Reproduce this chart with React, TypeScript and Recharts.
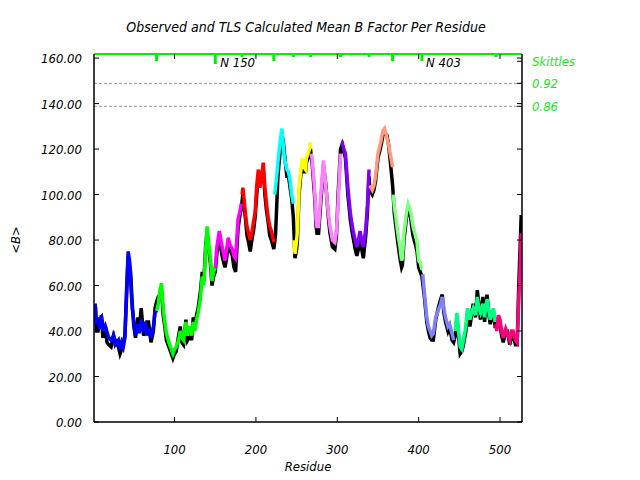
import React from 'react';
import { ComposedChart, Line, XAxis, YAxis, ReferenceLine, ReferenceDot } from 'recharts';

const residueTicks = [100, 200, 300, 400, 500];
const bTicks = [0, 20, 40, 60, 80, 100, 120, 140, 160];
const skittleLevels = [158.6, 148.9, 138.8];
const skittleTexts = ['Skittles', '0.92', '0.86'];
const dottedLevels = [148.9, 138.8];
const boundaryRes = [78, 150, 183, 222, 246, 267, 304, 339, 368, 404, 495];
const boundaryLevel = [2, 3, 1, 2, 1, 1, 1, 1, 2, 2, 1];
const nLabelRes = [150, 403];
const nLabelText = ['N 150', 'N 403'];

const observed: [number, number][] = [
  [2, 52], [3, 50], [4, 40], [6, 40], [8, 45], [10, 46], [12, 37], [15, 42], [17, 35], [19, 34], [22, 33], [25, 38], [27, 36],
  [31, 33], [33, 30], [35, 32], [37, 35], [39, 38], [41, 55], [43, 73], [45, 68], [46, 66], [48, 52], [50, 42], [52, 37],
  [55, 46], [57, 42], [59, 50], [62, 38], [64, 40], [66, 44], [68, 44], [71, 35], [74, 40], [76, 50], [78, 53], [80, 55],
  [82, 56], [84, 58], [86, 47], [88, 42], [90, 36], [93, 33], [95, 31], [98, 28], [100, 30], [102, 31], [105, 38], [107, 42],
  [109, 35], [111, 34], [114, 45], [116, 36], [119, 38], [121, 36], [123, 46], [125, 42], [127, 47], [129, 50], [132, 58],
  [134, 66], [136, 62], [138, 76], [140, 84], [142, 76], [144, 70], [146, 60], [148, 64], [150, 66], [152, 74], [155, 82],
  [157, 76], [159, 72], [162, 68], [164, 72], [166, 79], [168, 76], [171, 73], [173, 68], [175, 66], [178, 85], [180, 90],
  [182, 94], [184, 100], [187, 90], [189, 82], [191, 79], [193, 75], [195, 80], [197, 84], [199, 90], [201, 100], [203, 108],
  [205, 105], [207, 106], [209, 112], [211, 100], [213, 93], [215, 88], [217, 82], [219, 80], [222, 76], [224, 82], [225, 90],
  [227, 108], [230, 120], [232, 127], [234, 122], [235, 118], [238, 108], [240, 108], [242, 103], [244, 98], [246, 90],
  [248, 72], [250, 76], [251, 80], [253, 100], [255, 108], [257, 114], [259, 110], [261, 110], [262, 114], [264, 116],
  [266, 118], [267, 120], [269, 114], [272, 100], [274, 86], [275, 83], [277, 83], [280, 98], [283, 113], [286, 104],
  [289, 90], [291, 83], [294, 77], [297, 76], [299, 82], [301, 100], [304, 120], [306, 122], [308, 119], [310, 116],
  [313, 100], [316, 89], [318, 84], [320, 80], [322, 76], [324, 73], [326, 76], [328, 80], [330, 76], [332, 72], [335, 82],
  [337, 92], [339, 108], [340, 102], [343, 100], [345, 102], [347, 106], [350, 116], [352, 119], [354, 122], [356, 126],
  [358, 127], [361, 126], [363, 122], [365, 115], [368, 104], [370, 92], [372, 86], [374, 80], [377, 72], [379, 68],
  [380, 69], [382, 80], [385, 90], [387, 95], [390, 90], [393, 82], [396, 78], [398, 75], [400, 68], [402, 66], [404, 64],
  [407, 55], [410, 44], [412, 40], [414, 37], [416, 36], [418, 36], [421, 45], [424, 50], [427, 54], [429, 56], [431, 48],
  [433, 44], [436, 40], [438, 42], [441, 36], [443, 35], [445, 38], [447, 46], [449, 38], [451, 30], [453, 31], [455, 34],
  [458, 40], [460, 48], [463, 42], [465, 47], [467, 52], [470, 46], [472, 58], [474, 52], [476, 45], [479, 55], [481, 44],
  [484, 56], [486, 48], [488, 43], [490, 46], [492, 48], [494, 42], [496, 42], [498, 46], [500, 43], [502, 38], [504, 35],
  [507, 40], [509, 40], [512, 34], [514, 38], [516, 38], [519, 34], [521, 34], [522, 46], [523, 60], [525, 80], [526, 91],
];

const blueSeg: [number, number][] = [
  [2, 52], [4, 43], [6, 46], [8, 41], [10, 47], [13, 40], [15, 42], [19, 37], [22, 36], [25, 38], [27, 34], [31, 36], [33, 32],
  [35, 35], [37, 33], [39, 37], [41, 58], [43, 75], [45, 70], [46, 62], [48, 50], [50, 44], [52, 38], [55, 43], [57, 39],
  [59, 45], [62, 40], [64, 44], [66, 38], [68, 41], [71, 37], [74, 42], [76, 48], [78, 49],
];
const greenSeg: [number, number][] = [
  [78, 49], [80, 52], [82, 58], [84, 61], [86, 50], [88, 44], [90, 39], [93, 35], [95, 33], [98, 30], [100, 32], [102, 33],
  [105, 36], [107, 40], [109, 37], [111, 36], [114, 44], [116, 38], [119, 42], [121, 38], [123, 44], [125, 40], [127, 45],
  [129, 48], [132, 55], [134, 64], [136, 60], [138, 74], [140, 86], [142, 78], [144, 72], [146, 62], [148, 66], [150, 68],
];
const magentaSeg: [number, number][] = [
  [150, 68], [152, 77], [155, 84], [157, 80], [159, 76], [162, 71], [164, 76], [166, 81], [168, 78], [171, 76], [173, 73],
  [175, 72], [178, 89], [180, 92], [182, 96],
];
const redSeg: [number, number][] = [
  [183, 100], [184, 103], [187, 92], [189, 86], [191, 83], [193, 80], [195, 83], [197, 88], [199, 92], [201, 104], [203, 111],
  [205, 103], [207, 108], [209, 114], [211, 103], [213, 96], [215, 90], [217, 86], [219, 84], [222, 79],
];
const cyanSeg: [number, number][] = [
  [223, 100], [225, 106], [227, 114], [230, 124], [232, 129], [234, 120], [235, 116], [238, 111], [240, 110], [242, 106],
  [244, 100], [246, 96],
];
const yellowSeg: [number, number][] = [
  [247, 80], [248, 74], [250, 80], [251, 84], [253, 103], [255, 110], [257, 116], [259, 112], [261, 111], [262, 116],
  [264, 118], [266, 120], [267, 123],
];
const pinkSeg: [number, number][] = [
  [268, 118], [269, 116], [272, 103], [274, 89], [275, 86], [277, 86], [280, 101], [283, 115], [286, 103], [289, 92],
  [291, 86], [294, 80], [297, 79], [299, 84], [301, 96], [304, 118],
];
const purpleSeg: [number, number][] = [
  [305, 123], [306, 123], [308, 120], [310, 118], [313, 103], [316, 92], [318, 87], [320, 83], [322, 80], [324, 77],
  [326, 80], [328, 84], [330, 80], [332, 77], [335, 85], [337, 95], [339, 111],
];
const salmonSeg: [number, number][] = [
  [340, 104], [343, 102], [345, 104], [347, 108], [350, 118], [352, 121], [354, 124], [356, 128], [358, 129], [361, 125],
  [363, 122], [365, 118], [368, 112],
];
const lightGreenSeg: [number, number][] = [
  [369, 100], [370, 95], [372, 90], [374, 84], [377, 77], [379, 71], [380, 72], [382, 83], [385, 92], [387, 96], [390, 93],
  [393, 86], [396, 82], [398, 79], [400, 71], [402, 70], [404, 67],
];
const lightBlueSeg: [number, number][] = [
  [405, 65], [407, 57], [410, 46], [412, 42], [414, 40], [416, 38], [418, 39], [421, 46], [424, 49], [427, 52], [429, 55],
  [431, 50], [433, 46], [436, 42], [438, 43], [441, 39], [443, 36],
];
const springGreenSeg: [number, number][] = [
  [445, 40], [447, 48], [449, 40], [451, 33], [453, 32], [455, 36], [458, 42], [460, 50], [463, 45], [465, 48], [467, 50],
  [470, 47], [472, 55], [474, 50], [476, 48], [479, 52], [481, 46], [484, 54], [486, 50], [488, 45], [490, 48], [492, 50],
  [494, 44],
];
const pinkRedSeg: [number, number][] = [
  [495, 43], [496, 40], [498, 47], [500, 45], [502, 40], [504, 37], [507, 41], [509, 39], [512, 36], [514, 40], [516, 40],
  [519, 36], [521, 35], [522, 44], [523, 54], [525, 70], [526, 83],
];

const segments = [
  blueSeg, greenSeg, magentaSeg, redSeg, cyanSeg, yellowSeg, pinkSeg, purpleSeg, salmonSeg, lightGreenSeg,
  lightBlueSeg, springGreenSeg, pinkRedSeg,
];
const segmentColors = [
  '#0000ff', '#00ff00', '#ff00ff', '#ff0000', '#00ffff', '#ffff00', '#ff80ff', '#8000ff', '#ff9980', '#80ff80',
  '#8080ff', '#00ff80', '#ff0080',
];

const X_DOMAIN: [number, number] = [1, 527];
const Y_MAX = 161.8;
const FONT = "'DejaVu Sans Condensed', 'DejaVu Sans', sans-serif";
const SKITTLE_GREEN = '#19e619';

// build table
const rowMap = new Map<number, any>();
const getRow = (r: number) => {
  if (!rowMap.has(r)) rowMap.set(r, { r });
  return rowMap.get(r);
};
observed.forEach(([r, v]) => { getRow(r).obs = v; });
segments.forEach((seg, i) => seg.forEach(([r, v]) => { getRow(r)['s' + i] = v; }));
const table = Array.from(rowMap.values()).sort((a, b) => a.r - b.r);

const txt = { fontFamily: FONT, fontStyle: 'italic' as const, fontSize: 13, fontStretch: 'condensed' as const };
const titleTxt = { ...txt, fontSize: 14 };

const LeftTick = (p: any) => (
  <g>
    <line x1={p.x} x2={p.x + 5} y1={p.y} y2={p.y} stroke="#000" />
    <text x={p.x - 12} y={p.y + 5} textAnchor="end" fill="#000" style={txt}>{Number(p.payload.value).toFixed(2)}</text>
  </g>
);
const RightTick = (p: any) => {
  const idx = skittleLevels.indexOf(p.payload.value);
  return (
    <g>
      <line x1={p.x - 5} x2={p.x} y1={p.y} y2={p.y} stroke="#000" />
      {idx >= 0 && (
        <text x={p.x + 10} y={p.y + 5} textAnchor="start" fill={SKITTLE_GREEN} style={txt}>{skittleTexts[idx]}</text>
      )}
    </g>
  );
};
const BottomTick = (p: any) => (
  <g>
    <line x1={p.x} x2={p.x} y1={p.y} y2={p.y - 5} stroke="#000" />
    <text x={p.x} y={p.y + 32} textAnchor="middle" fill="#000" style={txt}>{p.payload.value}</text>
  </g>
);
const TopTick = (p: any) => (
  <line x1={p.x} x2={p.x} y1={p.y} y2={p.y + 5} stroke="#000" />
);

const levelLen = (l: number) => (l === 3 ? 10 : l === 2 ? 7 : 3);

export default function App() {
  return (
    <div style={{ position: 'absolute', left: 0, top: 0, width: 640, height: 480, background: '#fff' }}>
      <ComposedChart width={640} height={480} data={table} margin={{ top: 0, right: 0, bottom: 0, left: 0 }}>
        <XAxis
          xAxisId={0}
          dataKey="r"
          type="number"
          domain={X_DOMAIN}
          allowDataOverflow
          ticks={residueTicks}
          height={58}
          tickSize={0}
          tickMargin={0}
          tickLine={false}
          axisLine={{ stroke: '#000', strokeWidth: 1.5 }}
          tick={BottomTick}
          interval={0}
        />
        <XAxis
          xAxisId="top"
          orientation="top"
          dataKey="r"
          type="number"
          domain={X_DOMAIN}
          allowDataOverflow
          ticks={residueTicks}
          height={54}
          tickSize={0}
          tickMargin={0}
          tickLine={false}
          axisLine={{ stroke: '#00ee00', strokeWidth: 2 }}
          tick={TopTick}
          interval={0}
        />
        <YAxis
          yAxisId={0}
          type="number"
          domain={[0, Y_MAX]}
          allowDataOverflow
          ticks={bTicks}
          width={94}
          tickSize={0}
          tickMargin={0}
          tickLine={false}
          axisLine={{ stroke: '#000', strokeWidth: 1.5 }}
          tick={LeftTick}
          interval={0}
        />
        <YAxis
          yAxisId="r"
          orientation="right"
          type="number"
          domain={[0, Y_MAX]}
          allowDataOverflow
          ticks={[...bTicks, ...skittleLevels]}
          width={118}
          tickSize={0}
          tickMargin={0}
          tickLine={false}
          axisLine={{ stroke: '#000', strokeWidth: 1.5 }}
          tick={RightTick}
          interval={0}
        />
        {dottedLevels.map((v) => (
          <ReferenceLine key={'d' + v} y={v} stroke="#999" strokeDasharray="3 2" />
        ))}
        <Line
          dataKey="obs"
          stroke="#000"
          strokeWidth={3.5}
          dot={false}
          connectNulls
          isAnimationActive={false}
        />
        {segments.map((_, i) => (
          <Line
            key={'s' + i}
            dataKey={'s' + i}
            stroke={segmentColors[i]}
            strokeWidth={3.5}
            dot={false}
            connectNulls
            isAnimationActive={false}
          />
        ))}
        {boundaryRes.map((r, i) => (
          <ReferenceDot
            key={'b' + r}
            x={r}
            y={Y_MAX}
            r={0}
            ifOverflow="visible"
            shape={(p: any) => (
              <line x1={p.cx} x2={p.cx} y1={p.cy} y2={p.cy + levelLen(boundaryLevel[i])} stroke="#00ee00" strokeWidth={3} />
            )}
          />
        ))}
        {nLabelRes.map((r, i) => (
          <ReferenceDot
            key={'n' + r}
            x={r}
            y={Y_MAX}
            r={0}
            ifOverflow="visible"
            shape={(p: any) => (
              <text x={p.cx + 5} y={p.cy + 13} fill="#000" style={txt}>{nLabelText[i]}</text>
            )}
          />
        ))}
      </ComposedChart>
      <svg width={640} height={480} style={{ position: 'absolute', left: 0, top: 0, pointerEvents: 'none' }}>
        <text x={306} y={32} textAnchor="middle" fill="#000" style={titleTxt}>Observed and TLS Calculated Mean B Factor Per Residue</text>
        <text x={308} y={471} textAnchor="middle" fill="#000" style={txt}>Residue</text>
        <text x={0} y={0} transform="translate(20,240) rotate(-90)" textAnchor="middle" fill="#000" style={txt}>&lt;B&gt;</text>
      </svg>
    </div>
  );
}
